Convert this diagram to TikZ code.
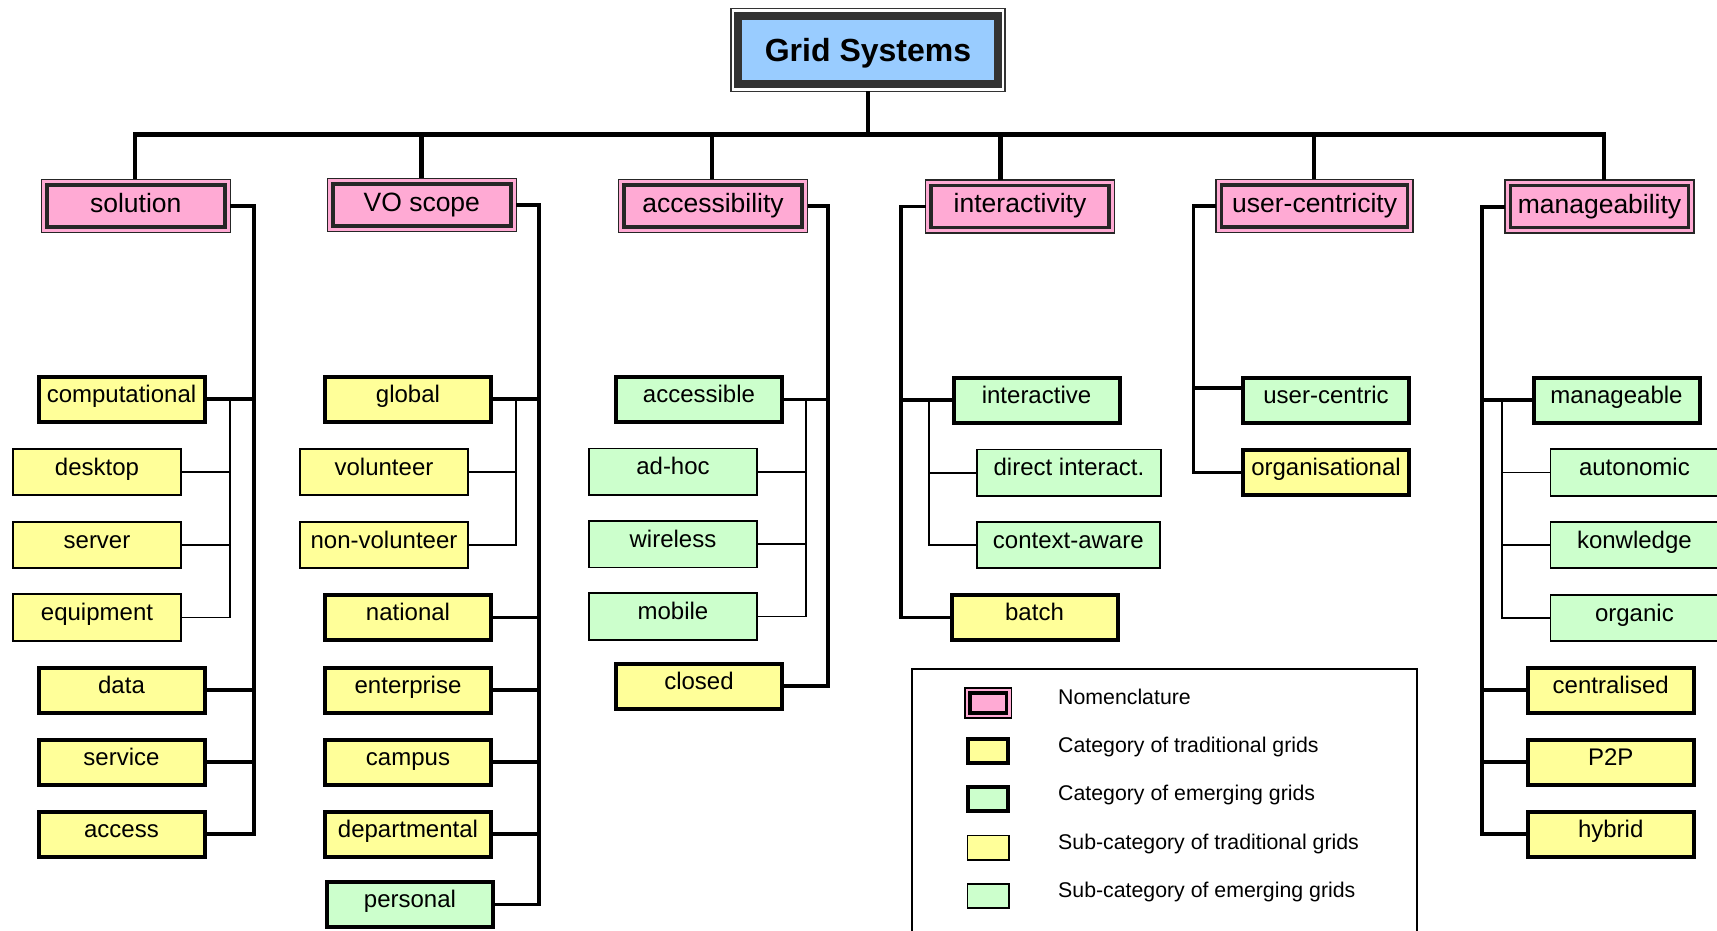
\documentclass[tikz,border=0pt]{standalone}
\usepackage{fontspec}
\setmainfont{Liberation Sans}
\definecolor{nompink}{HTML}{FFAAD4}
\definecolor{tyellow}{HTML}{FFFF99}
\definecolor{egreen}{HTML}{CCFFCC}
\definecolor{tblue}{HTML}{99CCFF}
\tikzset{
  box/.style={rectangle, inner sep=0pt, outer sep=0pt, font=\fontsize{24}{28}\selectfont, text height=10pt, text depth=4pt},
  catbox/.style={box, draw=black, line width=4pt, minimum width=166pt, minimum height=45pt},
  subbox/.style={box, draw=black, line width=1.8pt, minimum width=168pt, minimum height=46.5pt},
  trad/.style={fill=tyellow},
  emer/.style={fill=egreen},
  nom/.style={rectangle, inner sep=0pt, outer sep=0pt, draw=black!85, line width=1.5pt, fill=nompink,
    minimum width=189pt, minimum height=53pt, font=\fontsize{26.5}{30}\selectfont, text height=16pt, text depth=3pt,
    path picture={\draw[line width=3.5pt] ([xshift=5.5pt,yshift=-5.5pt]path picture bounding box.north west) rectangle ([xshift=-5.5pt,yshift=5.5pt]path picture bounding box.south east);}},
  titlebox/.style={rectangle, inner sep=0pt, outer sep=0pt, draw=black!80, line width=1.2pt, fill=white,
    minimum width=274pt, minimum height=82.5pt, font=\fontsize{32}{36}\selectfont\bfseries, text height=28pt, text depth=4pt,
    path picture={\draw[line width=8pt, fill=tblue] ([xshift=6.8pt,yshift=-6.8pt]path picture bounding box.north west) rectangle ([xshift=-6.8pt,yshift=6.8pt]path picture bounding box.south east);}},
  legnom/.style={rectangle, inner sep=0pt, outer sep=0pt, draw=black, line width=1.5pt, fill=nompink,
    minimum width=46.5pt, minimum height=30pt,
    path picture={\draw[line width=3.5pt] ([xshift=5pt,yshift=-5pt]path picture bounding box.north west) rectangle ([xshift=-5pt,yshift=5pt]path picture bounding box.south east);}},
  legcat/.style={rectangle, inner sep=0pt, outer sep=0pt, draw=black, line width=4pt, minimum width=40.7pt, minimum height=23.5pt},
  legsub/.style={rectangle, inner sep=0pt, outer sep=0pt, draw=black, line width=1.8pt, minimum width=41.2pt, minimum height=24.2pt},
  legtext/.style={anchor=base west, inner sep=0pt, font=\fontsize{21.3}{25}\selectfont},
  bus/.style={line width=4.5pt},
  trunk/.style={line width=3.6pt},
  thinline/.style={line width=1.8pt}
}
\begin{document}
\begin{tikzpicture}[x=1pt,y=-1pt,line join=miter]
\useasboundingbox (0,0) rectangle (1717,931);
\clip (0,0) rectangle (1717,931);

% title
\node[titlebox] (gs) at (868,50) {Grid Systems};

% nomenclature
\node[nom] (sol) at (135.8,206) {solution};
\node[nom] (vo) at (421.8,205) {VO scope};
\node[nom] (acc) at (713,206) {accessibility};
\node[nom] (int) at (1020,206.3) {interactivity};
\node[nom, minimum width=197pt] (uc) at (1314.6,206) {user-centricity};
\node[nom] (man) at (1599.5,206.7) {manageability};

% column 1
\node[catbox,trad] (comp) at (121.5,399) {computational};
\node[subbox,trad] (desk) at (97,472) {desktop};
\node[subbox,trad] (serv) at (97,545) {server};
\node[subbox,trad] (equip) at (97,617.5) {equipment};
\node[catbox,trad] (data) at (121.5,690) {data};
\node[catbox,trad] (service) at (121.5,762) {service};
\node[catbox,trad] (access) at (121.5,834) {access};

% column 2
\node[catbox,trad] (glob) at (408,399) {global};
\node[subbox,trad] (vol) at (384,472) {volunteer};
\node[subbox,trad] (nvol) at (384,545) {non-volunteer};
\node[catbox,trad] (nat) at (408,617.5) {national};
\node[catbox,trad] (ent) at (408,690) {enterprise};
\node[catbox,trad] (camp) at (408,762) {campus};
\node[catbox,trad] (dept) at (408,834) {departmental};
\node[catbox,emer] (pers) at (410,904.5) {personal};

% column 3
\node[catbox,emer] (accbl) at (699,399.5) {accessible};
\node[subbox,emer] (adhoc) at (673,471.7) {ad-hoc};
\node[subbox,emer] (wless) at (673,544.2) {wireless};
\node[subbox,emer] (mob) at (673,616.5) {mobile};
\node[catbox,trad] (closed) at (699,686) {closed};

% column 4
\node[catbox,emer] (inter) at (1036.5,400) {interactive};
\node[subbox,emer,minimum width=184pt] (direct) at (1069,472.8) {direct interact.};
\node[subbox,emer,minimum width=183pt] (ctx) at (1068.3,545) {context-aware};
\node[catbox,trad] (batch) at (1034.5,617.5) {batch};

% column 5
\node[catbox,emer] (ucent) at (1326,400) {user-centric};
\node[catbox,trad] (orgn) at (1326,472.5) {organisational};

% column 6
\node[catbox,emer] (mgbl) at (1616.5,400) {manageable};
\node[subbox,emer] (auton) at (1634.4,472.5) {autonomic};
\node[subbox,emer] (know) at (1634.4,545) {konwledge};
\node[subbox,emer] (orgc) at (1634.4,618) {organic};
\node[catbox,trad] (cent) at (1610.7,690) {centralised};
\node[catbox,trad] (p2p) at (1610.7,762) {P2P};
\node[catbox,trad] (hyb) at (1610.7,834) {hybrid};

% bus
\coordinate (d1) at (135,134.7);
\coordinate (d2) at (421.7,134.7);
\coordinate (d3) at (712,134.7);
\coordinate (d4) at (1000.5,134.7);
\coordinate (d5) at (1314,134.7);
\coordinate (d6) at (1604,134.7);
\draw[bus] (gs.south) -- (gs.south |- d1);
\draw[bus] (d1 |- sol.north) -- (d1) -- (d6) -- (d6 |- man.north);
\draw[bus] (d2) -- (d2 |- vo.north);
\draw[bus] (d3) -- (d3 |- acc.north);
\draw[bus] (d4) -- (d4 |- int.north);
\draw[bus] (d5) -- (d5 |- uc.north);

% trunks
\coordinate (t1) at (254,0);
\coordinate (s1) at (230,0);
\draw[trunk] (sol.east) -| (t1 |- access.east) -- (access.east);
\foreach \n in {comp,data,service} \draw[trunk] (\n.east) -- (\n.east -| t1);
\draw[thinline] (s1 |- comp.east) |- (equip.east);
\foreach \n in {desk,serv} \draw[thinline] (\n.east) -- (\n.east -| s1);

\coordinate (t2) at (538.7,0);
\coordinate (s2) at (515.7,0);
\draw[trunk] (vo.east) -| (t2 |- pers.east) -- (pers.east);
\foreach \n in {glob,nat,ent,camp,dept} \draw[trunk] (\n.east) -- (\n.east -| t2);
\draw[thinline] (s2 |- glob.east) |- (nvol.east);
\draw[thinline] (vol.east) -- (vol.east -| s2);

\coordinate (t3) at (828,0);
\coordinate (s3) at (806,0);
\draw[trunk] (acc.east) -| (t3 |- closed.east) -- (closed.east);
\draw[trunk] (accbl.east) -- (accbl.east -| t3);
\draw[thinline] (s3 |- accbl.east) |- (mob.east);
\foreach \n in {adhoc,wless} \draw[thinline] (\n.east) -- (\n.east -| s3);

\coordinate (t4) at (900.7,0);
\coordinate (s4) at (929,0);
\draw[trunk] (int.west) -| (t4 |- batch.west) -- (batch.west);
\draw[trunk] (inter.west) -- (inter.west -| t4);
\draw[thinline] (s4 |- inter.west) |- (ctx.west);
\draw[thinline] (direct.west) -- (direct.west -| s4);

\coordinate (t5) at (1193.3,0);
\coordinate (ucj) at ([yshift=12pt]ucent.west);
\draw[trunk] (uc.west) -| (t5 |- orgn.west) -- (orgn.west);
\draw[trunk] (ucj) -- (ucj -| t5);

\coordinate (t6) at (1481.7,0);
\coordinate (s6) at (1502.3,0);
\draw[trunk] (man.west) -| (t6 |- hyb.west) -- (hyb.west);
\foreach \n in {mgbl,cent,p2p} \draw[trunk] (\n.west) -- (\n.west -| t6);
\draw[thinline] (s6 |- mgbl.west) |- (orgc.west);
\foreach \n in {auton,know} \draw[thinline] (\n.west) -- (\n.west -| s6);

% legend
\draw[line width=2pt] (911.5,945) -- (911.5,669) -- (1417,669) -- (1417,945);
\node[legnom] (lg1) at (988,703) {};
\node[legcat,fill=tyellow] (lg2) at (988,751) {};
\node[legcat,fill=egreen] (lg3) at (988,799) {};
\node[legsub,fill=tyellow] (lg4) at (988,847.5) {};
\node[legsub,fill=egreen] (lg5) at (988,895.7) {};
\node[legtext] (lt1) at (1058,704.7) {Nomenclature};
\node[legtext] (lt2) at (1058,752.8) {Category of traditional grids};
\node[legtext] (lt3) at (1058,800.9) {Category of emerging grids};
\node[legtext] (lt4) at (1058,849) {Sub-category of traditional grids};
\node[legtext] (lt5) at (1058,897.1) {Sub-category of emerging grids};
\end{tikzpicture}
\end{document}
